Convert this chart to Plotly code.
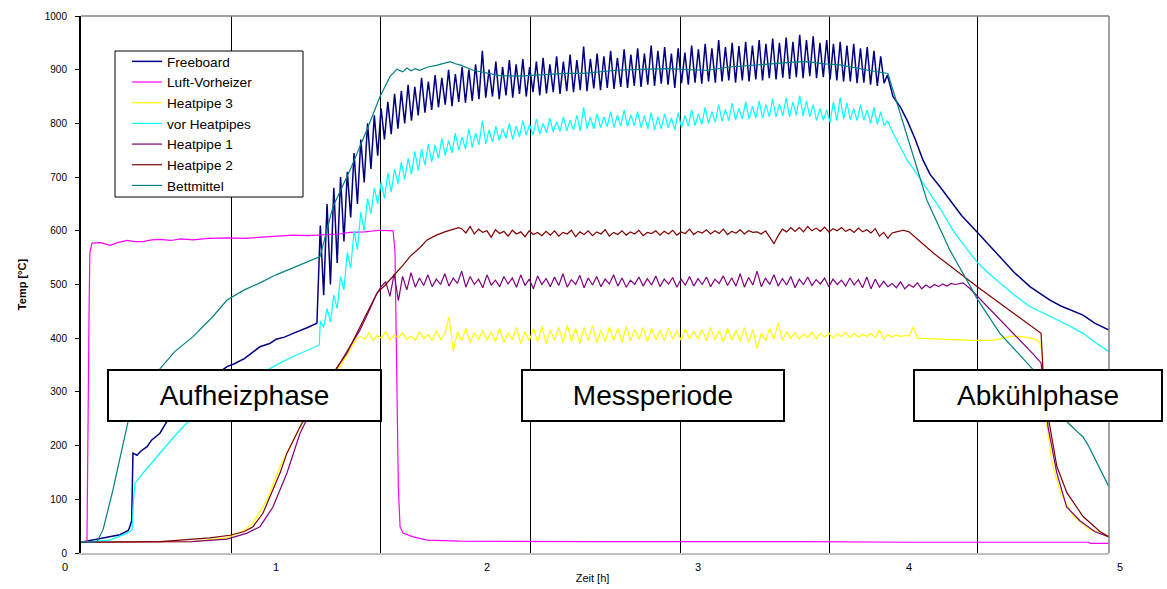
import plotly.graph_objects as go

# ---------------- data (hours, °C) ----------------
x_tick_vals = [0, 1, 2, 3, 4, 5]
y_tick_vals = [0, 100, 200, 300, 400, 500, 600, 700, 800, 900, 1000]
phase_lines = [0.787, 1.493, 2.204, 2.915, 3.621, 4.327]
x_view = [0.0758, 4.948]

# regularly sampled stretches: start time and sampling step (h)
osc_t0 = 1.21
osc_dt = 0.016
hp1_t0 = 1.52
hp2_t0 = 1.88
hp3_t0 = 1.40
noise_dt = 0.02

# Freeboard
fb_t_rise = [0.0758, 0.133, 0.213, 0.26, 0.275, 0.30, 0.308, 0.316, 0.322, 0.341, 0.36, 0.389, 0.41,
             0.450, 0.483, 0.53, 0.60, 0.68, 0.749, 0.768, 0.80, 0.85, 0.924, 0.97, 1.00, 1.04,
             1.081, 1.12, 1.15, 1.194]
fb_v_rise = [20, 24, 30, 34, 37, 42, 50, 60, 186, 182, 190, 198, 210,
             223, 245, 270, 300, 322, 341, 347, 352, 362, 384, 390, 398, 402,
             409, 415, 420, 428]
fb_osc = [610, 480, 650, 500, 680, 540, 700, 580, 710, 625, 745, 650, 770, 690, 800, 715,
          815, 740, 828, 770, 840, 780, 855, 790, 860, 800, 872, 805, 868, 815, 885, 820,
          878, 825, 890, 830, 885, 835, 900, 832, 892, 840, 905, 838, 900, 842, 910, 845,
          935, 848, 900, 850, 915, 845, 905, 852, 918, 848, 910, 855, 920, 850, 905, 858,
          915, 852, 922, 856, 910, 858, 925, 855, 915, 860, 928, 858, 918, 862, 943, 860,
          920, 865, 930, 862, 925, 866, 935, 864, 922, 868, 938, 866, 928, 870, 940, 868,
          930, 872, 945, 870, 935, 874, 942, 872, 930, 866, 940, 875, 932, 872, 945, 876,
          938, 874, 948, 878, 940, 876, 955, 878, 942, 880, 950, 876, 944, 880, 952, 878,
          945, 882, 955, 880, 948, 884, 958, 882, 950, 885, 960, 883, 952, 886, 965, 884,
          955, 888, 962, 884, 950, 886, 955, 882, 948, 880, 952, 878, 945, 878, 948, 875,
          940, 876, 942, 872, 935, 870, 925, 875, 890]
fb_t_fall = [3.924, 3.96, 3.991, 4.03, 4.066, 4.10, 4.147, 4.194, 4.25, 4.327, 4.38, 4.431,
             4.50, 4.573, 4.62, 4.668, 4.72, 4.77, 4.825, 4.88, 4.948]
fb_v_fall = [850, 830, 806, 770, 732, 705, 682, 657, 628, 596, 573, 552,
             522, 496, 483, 471, 460, 452, 443, 428, 415]

# Luft-Vorheizer
lv_t = [0.0758, 0.104, 0.114, 0.118, 0.128, 0.17, 0.213, 0.25, 0.294, 0.33, 0.370, 0.41, 0.450,
        0.50, 0.55, 0.607, 0.68, 0.768, 0.85, 0.924, 1.00, 1.081, 1.15, 1.242, 1.30, 1.351, 1.42,
        1.493, 1.53, 1.555, 1.564, 1.572, 1.580, 1.588, 1.602, 1.65, 1.716, 1.872, 2.5, 3.5,
        4.0, 4.85, 4.86, 4.948]
lv_v = [20, 20, 450, 560, 577, 578, 573, 578, 582, 580, 580, 583, 584,
        582, 585, 583, 586, 587, 586, 588, 590, 592, 591, 592, 594, 597, 598,
        601, 600, 600, 560, 300, 120, 49, 37, 30, 24, 22, 21, 21,
        20, 20, 18, 18]

# vor Heatpipes
vh_t_rise = [0.0758, 0.213, 0.294, 0.318, 0.325, 0.332, 0.370, 0.450, 0.531, 0.578, 0.70, 0.83,
             0.957, 1.02, 1.081, 1.15, 1.205]
vh_v_rise = [20, 24, 37, 43, 100, 130, 149, 186, 223, 242, 280, 313,
             341, 354, 366, 377, 387]
vh_osc = [432, 420, 455, 430, 480, 455, 515, 490, 560, 530, 600, 565, 635, 600, 660, 632,
          680, 650, 690, 660, 708, 672, 715, 688, 728, 695, 735, 705, 748, 712, 752, 722,
          762, 728, 760, 735, 772, 740, 768, 745, 782, 750, 775, 752, 790, 755, 782, 760,
          805, 762, 788, 765, 795, 768, 790, 772, 800, 770, 795, 775, 805, 778, 798, 778,
          808, 780, 800, 782, 810, 784, 803, 785, 812, 786, 806, 788, 815, 786, 830, 790,
          812, 790, 818, 792, 812, 794, 822, 792, 815, 795, 825, 794, 816, 796, 822, 792,
          814, 790, 820, 788, 812, 790, 818, 792, 810, 788, 820, 792, 815, 795, 825, 796,
          818, 798, 830, 800, 822, 802, 835, 804, 826, 805, 838, 806, 828, 808, 840, 808,
          832, 810, 842, 810, 835, 812, 845, 812, 836, 814, 848, 812, 840, 815, 852, 814,
          842, 812, 835, 805, 828, 806, 825, 802, 840, 805, 848, 808, 838, 806, 828, 805,
          835, 806, 825, 800, 830, 798, 822, 796, 805]
vh_t_fall = [3.924, 3.96, 3.991, 4.03, 4.066, 4.10, 4.15, 4.21, 4.27, 4.327, 4.38, 4.431, 4.50,
             4.573, 4.62, 4.668, 4.75, 4.825, 4.89, 4.948]
vh_v_fall = [782, 755, 732, 710, 689, 670, 640, 600, 568, 540, 520, 503, 480,
             459, 450, 440, 425, 409, 390, 375]

# Heatpipe 1
hp1_t_rise = [0.0758, 0.60, 0.768, 0.863, 0.924, 0.986, 1.052, 1.114, 1.20, 1.289, 1.336, 1.398,
              1.44, 1.479, 1.50]
hp1_v_rise = [20, 21, 26, 37, 49, 86, 149, 223, 292, 344, 375, 415, 450, 484, 497]
hp1_noise = [505, 478, 520, 470, 515, 490, 522, 495, 512, 498,
             518, 496, 510, 500, 520, 497, 512, 502, 525, 495,
             515, 500, 510, 494, 518, 499, 508, 496, 515, 501,
             512, 495, 518, 498, 510, 492, 516, 500, 511, 496,
             514, 498, 520, 495, 509, 500, 517, 494, 512, 499,
             515, 496, 510, 501, 518, 497, 512, 495, 508, 500,
             514, 497, 511, 499, 516, 496, 510, 501, 513, 495,
             510, 499, 515, 497, 511, 500, 514, 496, 510, 502,
             516, 498, 512, 497, 520, 495, 513, 499, 525, 496,
             512, 500, 518, 497, 511, 499, 515, 494, 510, 500,
             514, 498, 509, 501, 512, 496, 510, 500, 508, 497,
             512, 499, 509, 494, 514, 492, 510, 495, 506, 496,
             502, 494, 505, 492, 500, 495, 503, 492, 499, 494,
             500, 496, 501, 497, 502, 500]
hp1_t_fall = [4.24, 4.256, 4.29, 4.327, 4.38, 4.431, 4.49, 4.540, 4.59, 4.626, 4.64, 4.659,
              4.70, 4.747, 4.81, 4.88, 4.948]
hp1_v_fall = [501, 503, 492, 477, 455, 434, 412, 391, 370, 354, 300, 235,
              150, 86, 60, 40, 30]

# Heatpipe 2
hp2_t_rise = [0.0758, 0.45, 0.687, 0.782, 0.85, 0.891, 0.938, 0.986, 1.02, 1.052, 1.114, 1.20,
              1.289, 1.336, 1.398, 1.44, 1.479, 1.52, 1.555, 1.60, 1.635, 1.68, 1.716, 1.76,
              1.80, 1.84, 1.865]
hp2_v_rise = [20, 21, 28, 33, 40, 49, 74, 117, 150, 186, 235, 295,
              344, 372, 421, 455, 484, 500, 515, 535, 552, 568, 583, 592,
              598, 603, 606]
hp2_noise = [604, 596, 608, 594, 603, 597, 600, 588, 602, 595,
             599, 590, 601, 594, 598, 589, 600, 593, 597, 591,
             599, 592, 600, 590, 597, 594, 601, 589, 598, 593,
             600, 591, 598, 594, 602, 590, 597, 593, 600, 592,
             598, 594, 601, 591, 597, 595, 600, 592, 599, 594,
             601, 592, 598, 595, 603, 593, 599, 596, 602, 594,
             600, 595, 603, 593, 599, 596, 602, 594, 600, 597,
             598, 594, 600, 588, 576, 591, 603, 598, 606, 599,
             606, 598, 608, 600, 605, 599, 607, 598, 604, 600,
             606, 599, 603, 597, 605, 598, 602, 596, 604, 590,
             597, 586, 596]
hp2_t_fall = [3.94, 3.972, 4.00, 4.114, 4.327, 4.431, 4.583, 4.626, 4.630, 4.640, 4.668, 4.701,
              4.749, 4.825, 4.905, 4.948]
hp2_v_fall = [598, 601, 598, 559, 495, 465, 421, 409, 380, 300, 235, 161,
              112, 68, 40, 30]

# Heatpipe 3
hp3_t_rise = [0.0758, 0.60, 0.768, 0.85, 0.891, 0.957, 1.019, 1.081, 1.15, 1.22, 1.303, 1.351, 1.38]
hp3_v_rise = [20, 21, 28, 42, 56, 99, 161, 210, 262, 310, 347, 378, 398]
hp3_noise = [403, 398, 410, 396, 405, 400, 412, 397, 406, 401,
             410, 398, 404, 396, 412, 399, 407, 395, 414, 398,
             408, 440, 376, 412, 395, 418, 392, 410, 398, 415,
             396, 412, 394, 418, 392, 410, 397, 420, 390, 412,
             395, 418, 393, 422, 390, 415, 396, 420, 392, 425,
             394, 418, 390, 420, 396, 424, 392, 415, 394, 420,
             396, 418, 392, 422, 395, 416, 398, 420, 394, 418,
             397, 415, 395, 419, 398, 414, 396, 417, 399, 413,
             398, 416, 395, 420, 397, 414, 393, 418, 396, 415,
             394, 420, 392, 416, 380, 410, 395, 418, 398, 428,
             396, 412, 400, 410, 398, 408, 401, 411, 399, 409,
             402, 410, 400, 408, 403, 411, 401, 409, 402, 407,
             403, 409, 401, 415, 398, 407, 402, 406, 403, 405,
             404]
hp3_t_fall = [4.02, 4.04, 4.10, 4.20, 4.30, 4.40, 4.45, 4.50, 4.55, 4.60, 4.621, 4.632, 4.654,
              4.68, 4.72, 4.78, 4.85, 4.948]
hp3_v_fall = [421, 400, 399, 397, 396, 396, 401, 404, 402, 398, 392, 370, 235,
              165, 110, 68, 45, 32]

# Bettmittel
bm_t = [0.0758, 0.14, 0.152, 0.180, 0.227, 0.265, 0.299, 0.37, 0.45, 0.52, 0.607, 0.70, 0.768,
        0.85, 0.924, 1.00, 1.081, 1.15, 1.209, 1.270, 1.351, 1.431, 1.493, 1.540, 1.573, 1.60,
        1.62, 1.64, 1.66, 1.68, 1.72, 1.76, 1.80, 1.825, 1.85, 1.872, 1.934, 2.000, 2.06, 2.142,
        2.22, 2.299, 2.379, 2.455, 2.536, 2.616, 2.692, 2.773, 2.85, 2.95, 3.043, 3.15, 3.259,
        3.355, 3.45, 3.517, 3.60, 3.673, 3.75, 3.82, 3.900, 3.991, 4.085, 4.194, 4.327, 4.431,
        4.583, 4.68, 4.754, 4.80, 4.825, 4.85, 4.891, 4.948]
bm_v = [20, 20, 22, 43, 117, 185, 245, 300, 343, 375, 403, 440, 471,
        490, 503, 518, 531, 543, 552, 645, 713, 788, 850, 887, 901, 896,
        903, 898, 902, 899, 905, 908, 913, 915, 911, 909, 899, 894, 889, 888,
        890, 892, 893, 893, 896, 899, 900, 901, 902, 900, 899, 905, 908,
        912, 914, 915, 911, 909, 903, 898, 893, 775, 657, 564, 471, 409,
        344, 295, 242, 225, 216, 200, 167, 123]

series_names = ["Freeboard", "Luft-Vorheizer", "Heatpipe 3", "vor Heatpipes",
                "Heatpipe 1", "Heatpipe 2", "Bettmittel"]
series_colors = ["#000080", "#FF00FF", "#FFFF00", "#00FFFF", "#800080", "#800000", "#008080"]

phase_labels = ["Aufheizphase", "Messperiode", "Abkühlphase"]
phase_label_x = [0.8507, 2.7867, 4.6114]
phase_label_y = 293


def grid(t0, dt, n):
    return [round(t0 + i * dt, 4) for i in range(n)]


series_x = {
    "Freeboard": fb_t_rise + grid(osc_t0, osc_dt, len(fb_osc)) + fb_t_fall,
    "Luft-Vorheizer": lv_t,
    "Heatpipe 3": hp3_t_rise + grid(hp3_t0, noise_dt, len(hp3_noise)) + hp3_t_fall,
    "vor Heatpipes": vh_t_rise + grid(osc_t0, osc_dt, len(vh_osc)) + vh_t_fall,
    "Heatpipe 1": hp1_t_rise + grid(hp1_t0, noise_dt, len(hp1_noise)) + hp1_t_fall,
    "Heatpipe 2": hp2_t_rise + grid(hp2_t0, noise_dt, len(hp2_noise)) + hp2_t_fall,
    "Bettmittel": bm_t,
}
series_y = {
    "Freeboard": fb_v_rise + fb_osc + fb_v_fall,
    "Luft-Vorheizer": lv_v,
    "Heatpipe 3": hp3_v_rise + hp3_noise + hp3_v_fall,
    "vor Heatpipes": vh_v_rise + vh_osc + vh_v_fall,
    "Heatpipe 1": hp1_v_rise + hp1_noise + hp1_v_fall,
    "Heatpipe 2": hp2_v_rise + hp2_noise + hp2_v_fall,
    "Bettmittel": bm_v,
}

FONT = "Liberation Sans, Arial, sans-serif"

fig = go.Figure()
for name, color in zip(series_names, series_colors):
    fig.add_trace(go.Scatter(
        x=series_x[name], y=series_y[name], mode="lines", name=name,
        line=dict(color=color, width=1.5 if name == "Freeboard" else 1.2),
    ))

# empty trace that only carries the labelled time axis (x2)
fig.add_trace(go.Scatter(x=[None], y=[None], xaxis="x2", yaxis="y", mode="lines",
                         showlegend=False, hoverinfo="skip"))

for label, lx in zip(phase_labels, phase_label_x):
    w = {"Aufheizphase": 271, "Messperiode": 260, "Abkühlphase": 246}[label]
    fig.add_annotation(
        x=lx, y=phase_label_y, xref="x", yref="y", text=label, showarrow=False,
        font=dict(family=FONT, size=28, color="#000000"),
        bgcolor="#FFFFFF", bordercolor="#000000", borderwidth=2, borderpad=0,
        width=w, height=49, align="center", valign="middle",
    )

fig.update_layout(
    width=1167, height=589, autosize=False,
    margin=dict(l=65, r=47, t=16, b=36),
    paper_bgcolor="#FFFFFF", plot_bgcolor="rgba(0,0,0,0)",
    font=dict(family=FONT, size=11, color="#000000"),
    showlegend=True,
    legend=dict(
        x=0.0588, y=0.9441, xanchor="left", yanchor="top",
        bgcolor="rgba(0,0,0,0)", borderwidth=0,
        font=dict(family=FONT, size=13.6, color="#000000"),
        tracegroupgap=0, itemwidth=30,
    ),
    xaxis=dict(
        domain=[16 / 1055, 1044 / 1055], range=x_view, anchor="y",
        showticklabels=False, ticks="", tickvals=phase_lines,
        showgrid=True, gridcolor="#000000", gridwidth=1, zeroline=False,
        showline=True, linecolor="#C0C0C0", linewidth=2, automargin=False,
    ),
    xaxis2=dict(
        domain=[0, 1], range=[x_tick_vals[0], x_tick_vals[-1]], anchor="y", side="bottom",
        tickvals=x_tick_vals, ticktext=[str(v) for v in x_tick_vals], ticks="",
        showgrid=False, zeroline=False, showline=False, ticklabelstandoff=6,
        tickfont=dict(family=FONT, size=11, color="#000000"), automargin=False,
        title=dict(text="Zeit [h]", font=dict(family=FONT, size=11, color="#000000"), standoff=2),
    ),
    yaxis=dict(
        domain=[0, 1], range=[0, 1000], anchor="x",
        tickvals=y_tick_vals, ticks="outside", ticklen=4, tickcolor="#000000", tickwidth=1,
        showgrid=False, zeroline=False, showline=True, linecolor="#000000", linewidth=2,
        ticklabelstandoff=6,
        tickfont=dict(family=FONT, size=10, color="#000000"),
        title=dict(text="<b>Temp [°C]</b>", font=dict(family=FONT, size=11, color="#000000"),
                   standoff=16),
        automargin=False,
    ),
    shapes=[
        dict(type="line", xref="x domain", yref="y domain", x0=0, x1=1, y0=1, y1=1,
             line=dict(color="#808080", width=1.5)),
        dict(type="line", xref="x domain", yref="y domain", x0=1, x1=1, y0=0, y1=1,
             line=dict(color="#808080", width=1.5)),
        # legend frame
        dict(type="rect", xref="paper", yref="paper", x0=0.0474, x1=0.2256, y0=0.6629, y1=0.9348,
             fillcolor="#FFFFFF", line=dict(color="#000000", width=1), layer="above"),
    ],
)

fig.write_html("out.html", config={"displayModeBar": False},
               post_script="document.body.style.margin='0';")
